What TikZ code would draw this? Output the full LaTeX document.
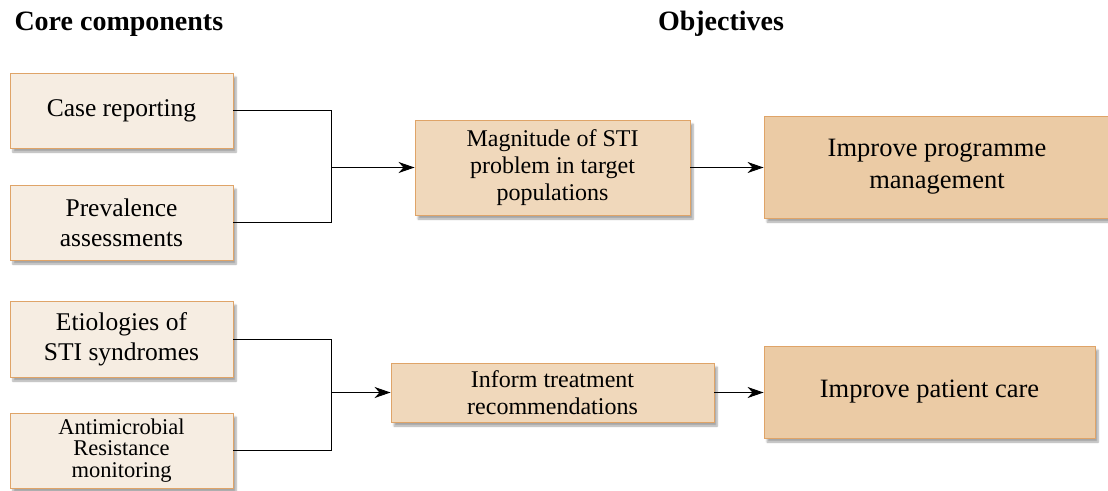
\documentclass[tikz,border=0pt]{standalone}
\usepackage{fontspec}
\setmainfont{Liberation Serif}
\usetikzlibrary{arrows.meta,shadows.blur}
\definecolor{lightfill}{HTML}{F6EDE2}
\definecolor{midfill}{HTML}{F0D8BB}
\definecolor{darkfill}{HTML}{EBCBA5}
\definecolor{boxline}{HTML}{DFA468}
\tikzset{
  box/.style={draw=boxline, line width=0.9pt, rectangle, align=center, inner sep=2pt,
    blur shadow={shadow xshift=3pt, shadow yshift=-4pt, shadow blur steps=6, shadow opacity=35}},
  compbox/.style={box, fill=lightfill, minimum width=223pt, font=\fontsize{25.5}{30}\selectfont},
  midbox/.style={box, fill=midfill, font=\fontsize{24}{27}\selectfont},
  objbox/.style={box, fill=darkfill, font=\fontsize{26.5}{32}\selectfont},
  conn/.style={line width=0.9pt, black},
  arr/.style={conn, -{Stealth[length=16pt,width=11pt,inset=5pt]}},
  head/.style={font=\fontsize{28}{30}\selectfont\bfseries, anchor=base}
}
\begin{document}
\begin{tikzpicture}[x=1pt,y=-1pt]
\useasboundingbox (0,0) rectangle (1108,490);
\clip (0,0) rectangle (1108,490);
\node[head, anchor=base west] (h1) at (11,30) {Core components};
\node[head] (h2) at (721,30) {Objectives};

\node[compbox, minimum height=75pt] (case) at (121.5,110.5) {Case reporting};
\node[compbox, minimum height=75pt] (prev) at (121.5,222.5) {Prevalence\\assessments};
\node[compbox, minimum height=76pt] (etio) at (121.5,339) {Etiologies of\\STI syndromes};
\node[compbox, minimum height=75pt, inner sep=1pt, font=\fontsize{22.5}{21.5}\selectfont] (anti) at (121.5,450.5) {Antimicrobial\\Resistance\\monitoring};

\node[midbox, minimum width=275pt, minimum height=95pt] (mag) at (552.5,167.5) {Magnitude of STI\\problem in target\\populations};
\node[midbox, minimum width=323pt, minimum height=59pt] (inf) at (552.5,392.5) {Inform treatment\\recommendations};

\node[objbox, minimum width=346pt, minimum height=102pt] (ipm) at (937,167) {Improve programme\\management};
\node[objbox, minimum width=331pt, minimum height=92pt] (ipc) at (929.5,392) {Improve patient care};

\coordinate (j1) at (331,167.5);
\coordinate (j2) at (331,392.5);
\draw[conn] (case.east) -| (j1);
\draw[conn] (prev.east) -| (j1);
\draw[arr] (j1) -- (mag.west);
\draw[arr] (mag.east) -- (mag.east -| ipm.west);
\draw[conn] (etio.east) -| (j2);
\draw[conn] (anti.east) -| (j2);
\draw[arr] (j2) -- (inf.west);
\draw[arr] (inf.east) -- (inf.east -| ipc.west);
\end{tikzpicture}
\end{document}
